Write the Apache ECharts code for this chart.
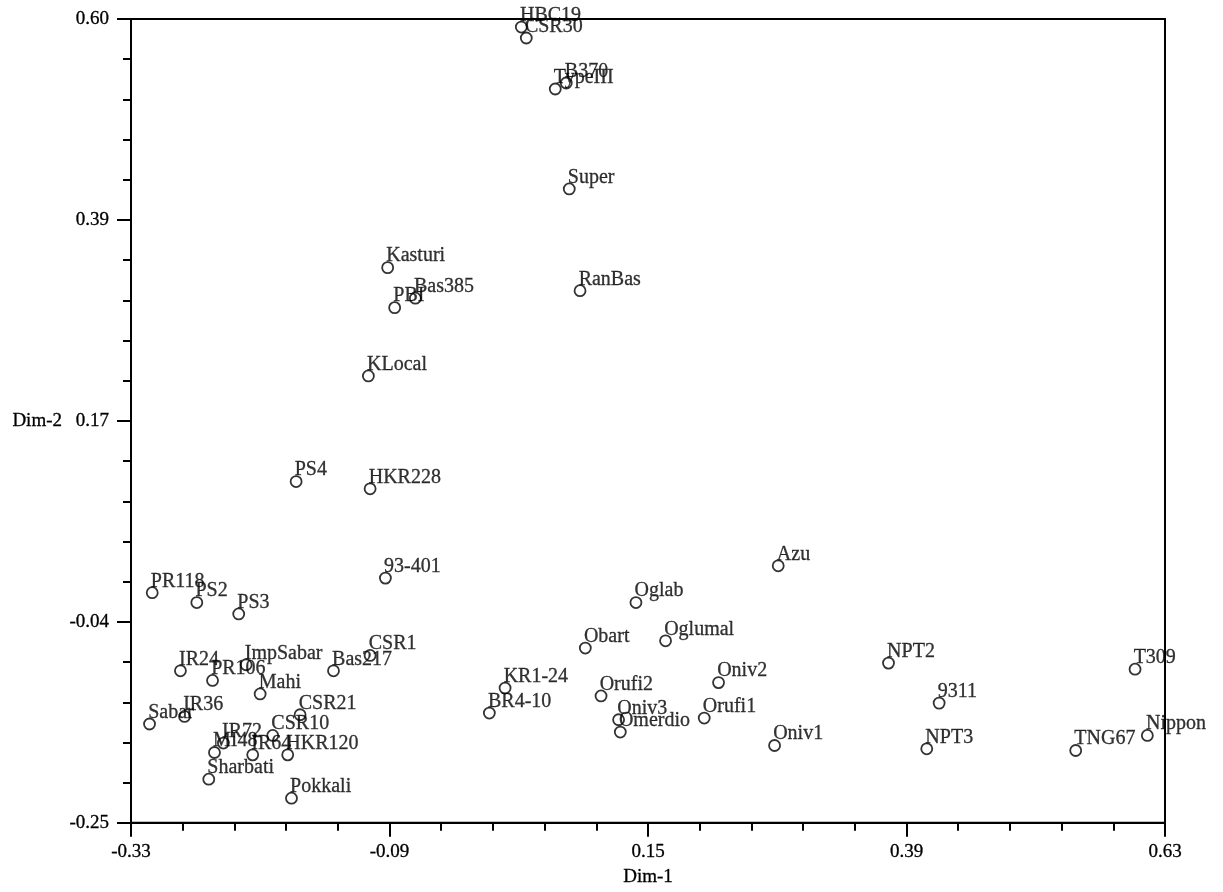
<!DOCTYPE html>
<html>
<head>
<meta charset="utf-8">
<script src="https://cdn.jsdelivr.net/npm/echarts@6/dist/echarts.min.js"></script>
<style>
html,body{margin:0;padding:0;background:#fff;}
#chart{width:1223px;height:892px;}
</style>
</head>
<body>
<div id="chart"></div>
<script>
// Genotype names and their coordinates (Dim-1, Dim-2)
const names = ["HBC19","CSR30","TypeIII","B370","Super","Kasturi","PBI","Bas385","RanBas","KLocal",
  "PS4","HKR228","93-401","PR118","PS2","PS3","Oglab","Azu","Obart","Oglumal",
  "ImpSabar","CSR1","IR24","PR106","Bas217","Mahi","KR1-24","NPT2","T309","Oniv2",
  "Orufi2","9311","Sabar","IR36","CSR21","BR4-10","Oniv3","Orufi1","Omerdio","CSR10",
  "Nippon","IR72","Oniv1","NPT3","TNG67","MI48","IR64","HKR120","Sharbati","Pokkali"];
const dim1 = [0.0324,0.0370,0.0639,0.0741,0.0769,-0.0917,-0.0852,-0.0660,0.0869,-0.1096,
  -0.1767,-0.1080,-0.0938,-0.3103,-0.2689,-0.2300,0.1388,0.2709,0.0918,0.1663,
  -0.2231,-0.1080,-0.2841,-0.2543,-0.1420,-0.2101,0.0173,0.3733,0.6022,0.2155,
  0.1064,0.4203,-0.3128,-0.2803,-0.1730,0.0027,0.1227,0.2022,0.1243,-0.1984,
  0.6136,-0.2442,0.2675,0.4088,0.5471,-0.2525,-0.2170,-0.1845,-0.2578,-0.1810];
const dim2 = [0.5915,0.5799,0.5260,0.5323,0.4203,0.3371,0.2948,0.3048,0.3127,0.2226,
  0.1109,0.1032,0.0088,-0.0066,-0.0171,-0.0291,-0.0171,0.0218,-0.0652,-0.0575,
  -0.0828,-0.0730,-0.0892,-0.0994,-0.0892,-0.1137,-0.1075,-0.0811,-0.0875,-0.1017,
  -0.1158,-0.1234,-0.1455,-0.1375,-0.1357,-0.1339,-0.1410,-0.1392,-0.1540,-0.1576,
  -0.1576,-0.1656,-0.1682,-0.1717,-0.1735,-0.1756,-0.1781,-0.1781,-0.2038,-0.2239];
// Axis ranges and tick labels
const xRange = [-0.33, 0.63];
const yRange = [-0.25, 0.60];
const xTickLabels = ["-0.33","-0.09","0.15","0.39","0.63"];
const yTickLabels = ["-0.25","-0.04","0.17","0.39","0.60"];

const font = "Liberation Serif";
const data = names.map((n, i) => ({ name: n, value: [dim1[i], dim2[i]] }));

const chart = echarts.init(document.getElementById('chart'), null, { renderer: 'canvas' });
const tickAxisCommon = {
  type: 'value', min: 0, max: 4, interval: 1,
  axisLine: { show: true, onZero: false, lineStyle: { color: '#000', width: 2 } },
  axisTick: { show: true, inside: false, length: 14, lineStyle: { color: '#000', width: 2 } },
  minorTick: { show: true, splitNumber: 5, length: 8, lineStyle: { color: '#000', width: 2 } },
  splitLine: { show: false },
  minorSplitLine: { show: false }
};
const txt = { fontFamily: font, color: '#000', textBorderColor: '#000', textBorderWidth: 0.3 };
chart.setOption({
  animation: false,
  backgroundColor: '#fff',
  grid: { left: 131, top: 19, right: 58, bottom: 69, show: true, borderColor: '#000', borderWidth: 2, backgroundColor: 'transparent' },
  xAxis: [
    { type: 'value', min: xRange[0], max: xRange[1], show: false, splitLine: { show: false } },
    Object.assign({}, tickAxisCommon, {
      position: 'bottom',
      name: 'Dim-1', nameLocation: 'middle', nameGap: 45,
      nameTextStyle: Object.assign({ fontSize: 19 }, txt),
      axisLabel: Object.assign({ margin: 20, fontSize: 19,
        formatter: v => xTickLabels[Math.round(v)] }, txt)
    })
  ],
  yAxis: [
    { type: 'value', min: yRange[0], max: yRange[1], show: false, splitLine: { show: false } },
    Object.assign({}, tickAxisCommon, {
      position: 'left',
      name: 'Dim-2', nameLocation: 'middle', nameGap: 69, nameRotate: 0,
      nameTextStyle: Object.assign({ fontSize: 19, align: 'right', verticalAlign: 'middle' }, txt),
      axisLabel: Object.assign({ margin: 22, fontSize: 19,
        formatter: v => yTickLabels[Math.round(v)] }, txt)
    })
  ],
  series: [{
    type: 'scatter',
    xAxisIndex: 0, yAxisIndex: 0,
    data: data,
    symbol: 'circle',
    symbolSize: 11,
    itemStyle: { color: 'rgba(0,0,0,0)', borderColor: '#000', borderWidth: 1.8 },
    label: Object.assign({
      show: true, formatter: '{b}', position: [5, 5], align: 'left', verticalAlign: 'bottom',
      fontSize: 20
    }, txt),
    emphasis: { disabled: true }
  }]
});
</script>
</body>
</html>
